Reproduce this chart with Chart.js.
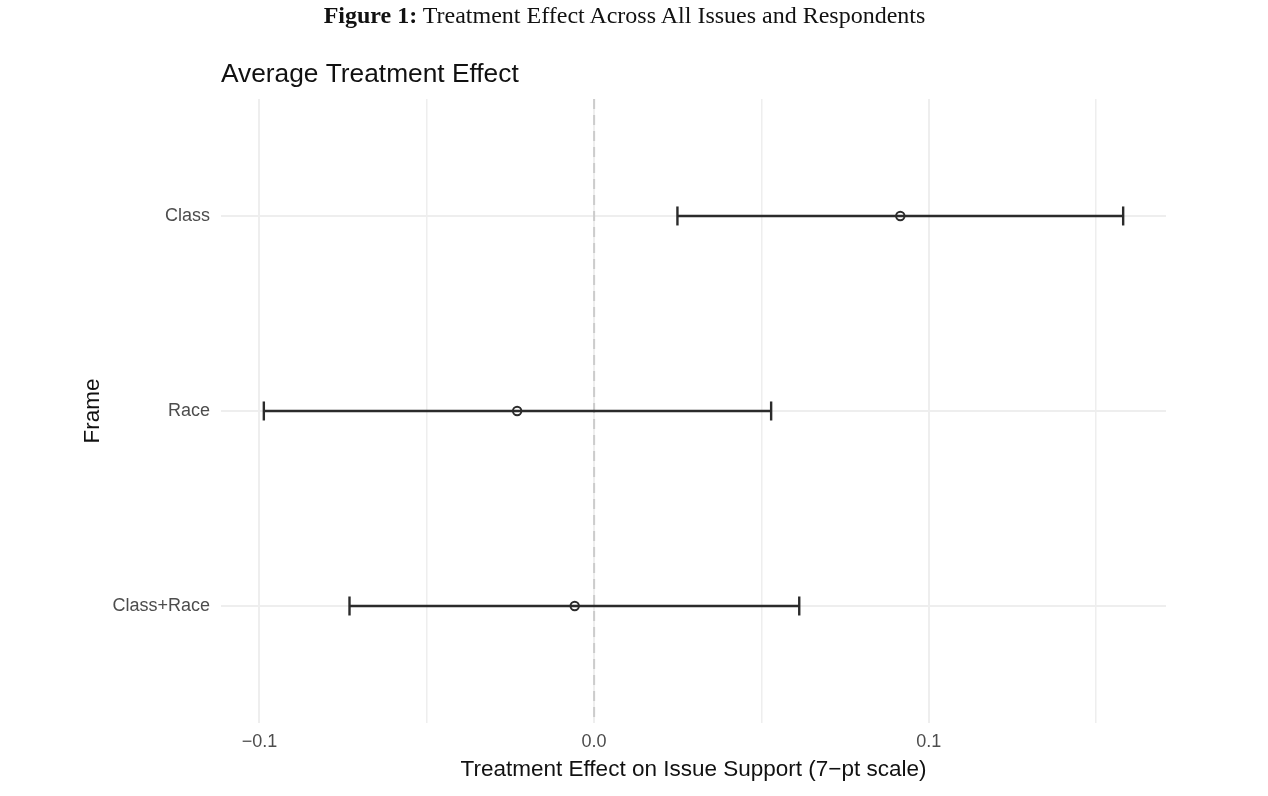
<!DOCTYPE html>
<html lang="en">
<head>
  <meta charset="UTF-8">
  <title>Average Treatment Effect</title>
  <script src="https://cdn.jsdelivr.net/npm/chart.js"></script>
  <style>
    body { margin: 0; background: #fff; }
    #caption {
      position: absolute; top: 2px; left: 0; width: 1249px;
      text-align: center; font-family: "Liberation Serif", serif;
      font-size: 24px; line-height: 27px; color: #111;
    }
    #wrap { position: relative; width: 1268px; height: 796px; }
  </style>
</head>
<body>
  <div id="wrap">
    <canvas id="ateChart"></canvas>
  </div>
  <div id="caption"><b>Figure 1:</b> Treatment Effect Across All Issues and Respondents</div>

  <script>
    // values
    const frames = ["Class", "Race", "Class+Race"];
    const estimates = [0.0915, -0.0230, -0.0058];
    const lowerCI = [0.0249, -0.0987, -0.0731];
    const upperCI = [0.1581, 0.0529, 0.0613];

    const xTickValues = [-0.1, 0.0, 0.1];
    const xTickLabels = ["\u22120.1", "0.0", "0.1"];
    const xGridValues = [-0.1, -0.05, 0.0, 0.05, 0.1, 0.15];
    const refLine = 0;

    const ink = "#2b2b2b";
    const gridColor = "#eeeeee";
    const font = "'Liberation Sans', Arial, sans-serif";

    // one line per frame, with vertical caps at both ends
    const barSets = frames.map((f, i) => ({
      label: f,
      data: [{ x: lowerCI[i], y: i + 1 }, { x: upperCI[i], y: i + 1 }],
      showLine: true,
      borderColor: ink,
      borderWidth: 2.4,
      pointStyle: "line",
      rotation: 90,
      pointRadius: 9.5,
      pointBorderWidth: 2.4,
      pointBorderColor: ink,
      order: 2
    }));

    const pointSet = {
      label: "Estimate",
      data: frames.map((f, i) => ({ x: estimates[i], y: i + 1 })),
      pointStyle: "circle",
      pointRadius: 4.2,
      pointBorderWidth: 2,
      pointBorderColor: ink,
      pointBackgroundColor: "rgba(0,0,0,0)",
      order: 1
    };

    const zeroSet = {
      label: "zero",
      data: [{ x: refLine, y: 0.4 }, { x: refLine, y: 3.6 }],
      showLine: true,
      borderColor: "#cccccc",
      borderWidth: 2,
      borderDash: [10, 6],
      pointRadius: 0,
      order: 3
    };

    new Chart(document.getElementById("ateChart"), {
      type: "scatter",
      data: { datasets: [pointSet, ...barSets, zeroSet] },
      options: {
        responsive: true,
        maintainAspectRatio: false,
        animation: false,
        layout: { padding: { left: 0, right: 102, top: 0, bottom: 0 } },
        plugins: {
          legend: { display: false },
          tooltip: { enabled: false },
          title: {
            display: true,
            text: "Average Treatment Effect",
            align: "start",
            fullSize: false,
            color: "#111",
            font: { family: font, size: 26.3, weight: "normal" },
            padding: { top: 59, bottom: 8.4 }
          }
        },
        scales: {
          x: {
            type: "linear",
            min: -0.1115,
            max: 0.1709,
            afterBuildTicks: s => { s.ticks = xGridValues.map(v => ({ value: v })); },
            afterFit: s => { s.height = 73; },
            border: { display: false },
            grid: {
              drawTicks: false,
              color: gridColor,
              lineWidth: c => (Math.abs(c.tick.value * 10 - Math.round(c.tick.value * 10)) < 1e-6 ? 2 : 1.5)
            },
            ticks: {
              padding: 8,
              color: "#4d4d4d",
              font: { family: font, size: 18 },
              callback: v => {
                const k = xTickValues.findIndex(t => Math.abs(t - v) < 1e-9);
                return k < 0 ? "" : xTickLabels[k];
              }
            },
            title: {
              display: true,
              text: "Treatment Effect on Issue Support (7\u2212pt scale)",
              color: "#111",
              font: { family: font, size: 22.5 },
              padding: { top: 0, bottom: 12.5 }
            }
          },
          y: {
            type: "linear",
            reverse: true,
            min: 0.4,
            max: 3.6,
            afterBuildTicks: s => { s.ticks = frames.map((f, i) => ({ value: i + 1 })); },
            afterFit: s => { s.width = 221; },
            border: { display: false },
            grid: { drawTicks: false, color: gridColor, lineWidth: 2 },
            ticks: {
              padding: 11,
              color: "#4d4d4d",
              font: { family: font, size: 18 },
              callback: v => frames[Math.round(v) - 1]
            },
            title: {
              display: true,
              text: "Frame",
              color: "#111",
              font: { family: font, size: 22.5 },
              padding: { top: 79, bottom: 0 }
            }
          }
        }
      }
    });
  </script>
</body>
</html>
